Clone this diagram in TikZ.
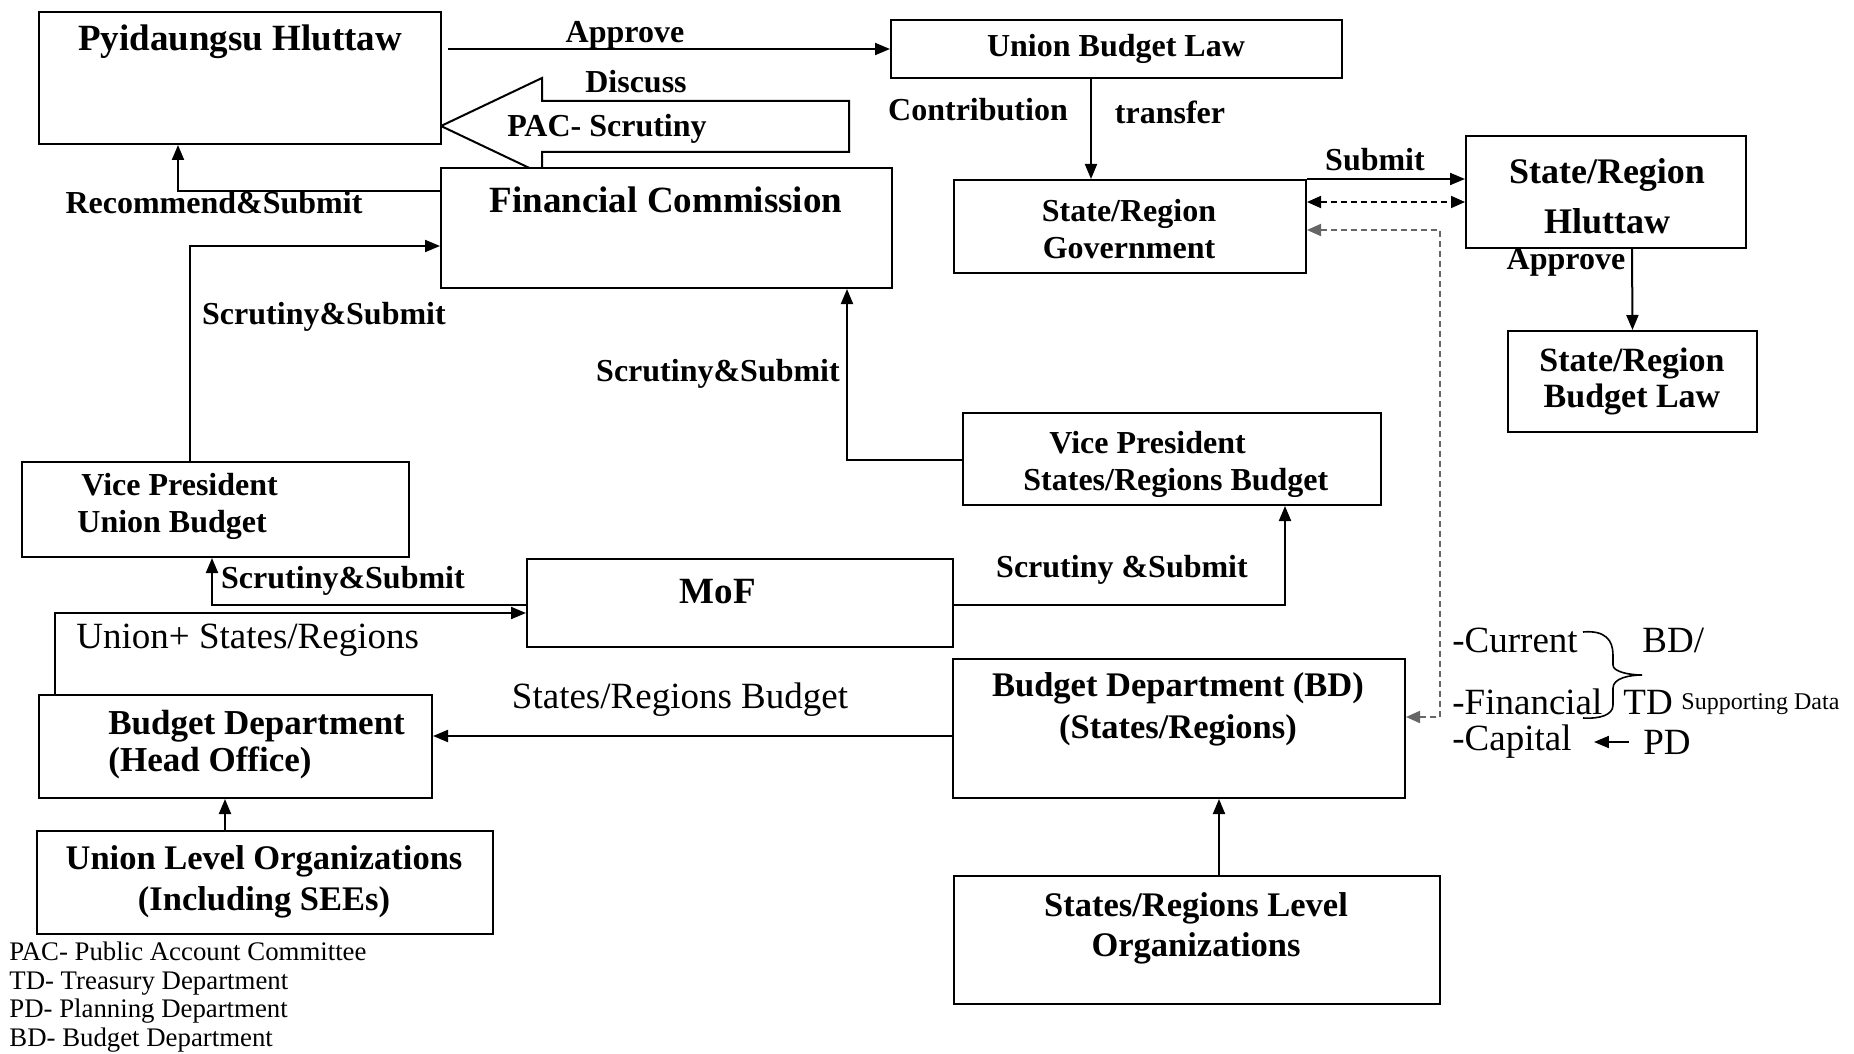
\documentclass[tikz,border=0pt]{standalone}
\usepackage{fontspec}
\setmainfont{Liberation Serif}
\usetikzlibrary{arrows.meta, fit}

\tikzset{
  box/.style={draw, line width=1pt, inner sep=0pt, fill=white},
  arr/.style={line width=1pt, -{Triangle[length=7.5pt,width=6pt]}},
  darr/.style={line width=0.9pt, dash pattern=on 3pt off 2pt, {Triangle[length=7pt,width=6pt]}-{Triangle[length=7pt,width=6pt]}},
  lab/.style={font=\fontsize{16}{18.5}\selectfont\bfseries, inner sep=0pt, align=center},
  mid/.style={font=\fontsize{17.25}{20.5}\selectfont\bfseries, inner sep=0pt, align=center},
  big/.style={font=\fontsize{18.5}{25}\selectfont\bfseries, inner sep=0pt, align=center},
  plain/.style={font=\fontsize{18.5}{21}\selectfont, inner sep=0pt},
}

\begin{document}
\begin{tikzpicture}[x=0.5pt, y=-0.5pt]
	\useasboundingbox (0,0) rectangle (1854,1054);

	% PAC scrutiny (hollow arrow)
	\draw[line width=1pt] (441,126) -- (542,78) -- (542,101) -- (849,101) -- (849,152) -- (542,152) -- (542,174) -- cycle;

	% Union side
	\node[box, fit={(39,12) (441,144)}] (ph) {};
	\node[big] (phtxt) at (240,42) {Pyidaungsu Hluttaw};
	\node[box, fit={(891,20) (1342,78)}] (ubl) {};
	\node[lab] (ubltxt) at (1116,49) {Union Budget Law};
	\node[box, fit={(441,168) (892,288)}] (fc) {};
	\node[big] (fctxt) at (666,200) {Financial Commission};
	\node[box, fit={(22,462) (409,557)}] (vpu) {};
	\node[lab, align=left, anchor=west] (vputxt) at (77,506) {\hspace{2pt}Vice President\\Union Budget};
	\node[box, fit={(527,559) (953,647)}] (mof) {};
	\node[big] (moftxt) at (718,592) {MoF};
	\node[box, fit={(39,695) (432,798)}] (bdh) {};
	\node[mid, font=\fontsize{17.5}{18.5}\selectfont\bfseries, align=left, anchor=west] (bdhtxt) at (108,745) {Budget Department\\(Head Office)};
	\node[box, fit={(37,831) (493,934)}] (ulo) {};
	\node[mid] (ulotxt) at (264,882) {Union Level Organizations\\(Including SEEs)};

	% States/Regions side
	\node[box, fit={(954,180) (1306,273)}] (srg) {};
	\node[lab] (srgtxt) at (1129,229) {State/Region\\Government};
	\node[box, fit={(1466,136) (1746,248)}] (srh) {};
	\node[big, font=\fontsize{18}{25}\selectfont\bfseries] (srhtxt) at (1607,196) {State/Region\\Hluttaw};
	\node[box, fit={(1508,331) (1757,432)}] (srbl) {};
	\node[mid, font=\fontsize{17}{18}\selectfont\bfseries] (srbltxt) at (1632,381) {State/Region\\Budget Law};
	\node[box, fit={(963,413) (1381,505)}] (vps) {};
	\node[lab, align=left, anchor=west] (vpstxt) at (1023,464) {\hspace{13pt}Vice President\\States/Regions Budget};
	\node[box, fit={(953,659) (1405,798)}] (bds) {};
	\node[mid, font=\fontsize{17.25}{21}\selectfont\bfseries] (bdstxt) at (1178,709) {Budget Department (BD)\\(States/Regions)};
	\node[box, fit={(954,876) (1440,1004)}] (slo) {};
	\node[mid, font=\fontsize{17.25}{20}\selectfont\bfseries] (slotxt) at (1196,928) {States/Regions Level\\Organizations};

	% labels
	\node[lab] (lapprove) at (625,35) {Approve};
	\node[lab] (ldiscuss) at (636,82) {Discuss};
	\node[lab] (lpac) at (607,129) {PAC- Scrutiny};
	\node[lab] (lrec) at (214,203) {Recommend\&Submit};
	\node[lab] (lss1) at (324,317) {Scrutiny\&Submit};
	\node[lab] (lss2) at (718,374) {Scrutiny\&Submit};
	\node[lab] (lss3) at (343,581) {Scrutiny\&Submit};
	\node[lab] (lss4) at (1122,570) {Scrutiny \&Submit};
	\node[lab] (lcontr) at (978,110) {Contribution};
	\node[lab] (ltransf) at (1170,112) {transfer};
	\node[lab] (lsubmit) at (1375,160) {Submit};
	\node[lab] (lapprove2) at (1566,262) {Approve};
	\node[plain, anchor=west] (lunion) at (76,640) {Union+ States/Regions};
	\node[plain] (lsrb) at (680,700) {States/Regions Budget};

	% supporting data
	\node[plain, anchor=west] (cur) at (1452,640) {-Current};
	\node[plain, anchor=west] (fin) at (1452,702) {-Financial};
	\node[plain, anchor=west] (cap) at (1452,742) {-Capital};
	\node[plain, anchor=west] (bdsl) at (1642,640) {BD/};
	\node[plain, anchor=west] (td) at (1623,702) {TD};
	\node[font=\fontsize{12}{14}\selectfont, inner sep=0pt, anchor=west] (supp) at (1681,704) {Supporting Data};
	\node[plain, anchor=west] (pd) at (1643,742) {PD};
	\draw[line width=0.8pt] (1583,632) .. controls (1605,630) and (1613,640) .. (1613,655) -- (1613,665) .. controls (1613,672) and (1630,675) .. (1642,675) .. controls (1630,675) and (1613,678) .. (1613,688) -- (1613,705) .. controls (1613,715) and (1600,719) .. (1583,718);

	% legend
	\node[font=\fontsize{13.4}{14.35}\selectfont, inner sep=0pt, align=left, anchor=west] (legend) at (9,997) {PAC- Public Account Committee\\TD- Treasury Department\\PD- Planning Department\\BD- Budget Department};

	% connectors
	\draw[arr, shorten <=3pt] (ph.east |- ubl.west) -- (ubl.west);
	\draw[arr] (fc.west |- 0,191) -| (ph.south -| 178,0);
	\draw[arr] (vpu.north -| 190,0) |- (fc.west |- 0,246);
	\draw[arr] (vps.west |- 0,460) -| (fc.south -| 847,0);
	\draw[arr] (mof.west |- 0,605) -| (vpu.south -| 212,0);
	\draw[arr] (bdh.north -| 55,0) |- (mof.west |- 0,613);
	\draw[arr] (mof.east |- 0,605) -| (vps.south -| 1285,0);
	\draw[arr] (bds.west |- 0,736) -- (bdh.east |- 0,736);
	\draw[arr] (ulo.north -| 225,0) -- (bdh.south -| 225,0);
	\draw[arr] (slo.north -| 1219,0) -- (bds.south -| 1219,0);
	\draw[arr] (ubl.south -| 1091,0) -- (srg.north -| 1091,0);
	\draw[arr] (srg.north east) -- (srh.west |- srg.north);
	\draw[darr] (srg.east |- 0,202) -- (srh.west |- 0,202);
	\coordinate (bend) at (1440,717);
	\draw[darr, draw=black!60] (srg.east |- 0,230) -| (bend) -- (bds.east |- bend);
	\draw[arr] (srh.south -| 1632,0) -- (srbl.north);
	\draw[arr, shorten <=7pt, shorten >=11pt] (pd.west) -- (cap.east);
\end{tikzpicture}
\end{document}
